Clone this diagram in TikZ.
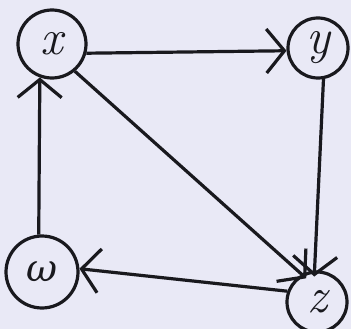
\documentclass[tikz,border=0pt]{standalone}
\usepackage{fontspec}
\newfontfamily\grfont{DejaVu Serif}
\usetikzlibrary{arrows.meta}
\definecolor{bg}{RGB}{233,233,246}
\definecolor{ink}{RGB}{25,25,30}
\begin{document}
\begin{tikzpicture}[x=1pt,y=-1pt,
  vert/.style={circle,draw=ink,line width=3.2pt,inner sep=0pt,font=\itshape\fontsize{50}{50}\selectfont,text=ink},
  edge/.style={draw=ink,line width=3.2pt,-{Straight Barb[length=18pt,width=44pt,line width=3.2pt]}}]
\fill[bg] (0,0) rectangle (351,329);
\useasboundingbox (0,0) rectangle (351,329);
\node[vert,minimum size=68pt] (x) at (52,44) {x};
\node[vert,minimum size=60pt] (y) at (318,48) {y};
\node[vert,minimum size=72pt] (w) at (42,272) {{\grfont\fontsize{38}{38}\selectfont ω}};
\node[vert,minimum size=60pt] (z) at (317,302) {z};
\draw[edge] (x.-15) -- (y.185);
\draw[edge] (y.-80) -- ([yshift=-6pt]z.95);
\draw[edge] (x.-50) -- ([yshift=-6pt]z.110);
\draw[edge] (z.160) -- (w.5);
\draw[edge] (w.95) -- (x.250);
\end{tikzpicture}
\end{document}
